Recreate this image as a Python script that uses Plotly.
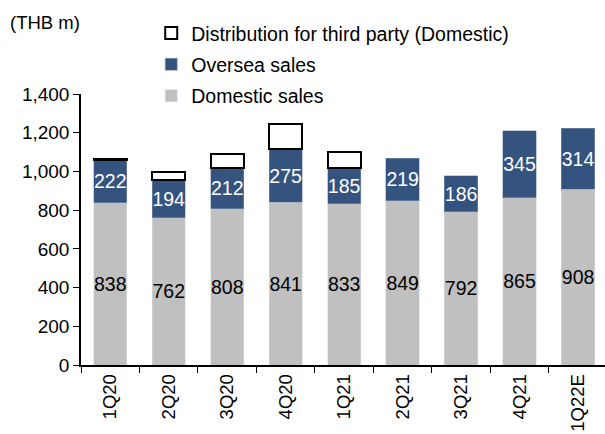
import plotly.graph_objects as go

quarters = ["1Q20", "2Q20", "3Q20", "4Q20", "1Q21", "2Q21", "3Q21", "4Q21", "1Q22E"]
domestic = [838, 762, 808, 841, 833, 849, 792, 865, 908]
oversea = [222, 194, 212, 275, 185, 219, 186, 345, 314]
third_party = [5, 40, 70, 130, 80, None, None, None, None]
y_ticks = [0, 200, 400, 600, 800, 1000, 1200, 1400]

FONT = "Liberation Sans, Arial, sans-serif"

fig = go.Figure()
fig.add_trace(go.Bar(
    x=quarters, y=domestic, name="Domestic sales", legendgroup="a", legendrank=3,
    marker=dict(color="#C0C0C0", line=dict(color="#D9D9D9", width=0.5)),
    text=[str(v) for v in domestic], textposition="inside", insidetextanchor="middle",
    textangle=0, constraintext="none",
    textfont=dict(color="black", size=19.5, family=FONT),
))
fig.add_trace(go.Bar(
    x=quarters, y=oversea, name="Oversea sales", legendgroup="b", legendrank=2,
    marker=dict(color="#34537F", line=dict(color="#8A9CB8", width=0.5)),
    text=[str(v) for v in oversea], textposition="inside", insidetextanchor="middle",
    textangle=0, constraintext="none",
    textfont=dict(color="white", size=19.5, family=FONT),
))
fig.add_trace(go.Bar(
    x=quarters, y=third_party, name="Distribution for third party (Domestic)",
    legendgroup="c", legendrank=1,
    marker=dict(color="white", line=dict(color="black", width=2)),
))

fig.update_layout(
    template="none",
    width=605, height=434,
    barmode="stack", bargap=0.43,
    plot_bgcolor="white", paper_bgcolor="white",
    margin=dict(l=81, r=0, t=94, b=69),
    font=dict(family=FONT, size=19, color="black"),
    showlegend=True,
    legend=dict(
        x=0.134, y=1.296, xanchor="left", yanchor="top",
        traceorder="grouped", tracegroupgap=3,
        font=dict(size=19.5), bgcolor="rgba(0,0,0,0)",
    ),
    annotations=[dict(
        text="(THB m)", xref="paper", yref="paper", x=-0.139, y=1.262,
        xanchor="left", yanchor="middle", showarrow=False, font=dict(size=18.5),
    )],
)
fig.update_xaxes(
    automargin=False,
    showline=True, linecolor="black", linewidth=1.5,
    ticks="outside", tickson="boundaries", ticklen=6, tickcolor="black",
    tickangle=-90, tickfont=dict(size=18.5), range=[-0.5, 8.46],
    showgrid=False, zeroline=False,
)
fig.update_yaxes(
    automargin=False,
    range=[0, 1400], tickvals=y_ticks, tickformat=",d",
    showline=True, linecolor="black", linewidth=1.5,
    ticks="outside", ticklen=6, tickcolor="black", showgrid=False,
    tickfont=dict(size=19), zeroline=False,
)

fig.write_html(
    "out.html",
    config={"displayModeBar": False},
    post_script="document.body.style.margin='0';",
)
